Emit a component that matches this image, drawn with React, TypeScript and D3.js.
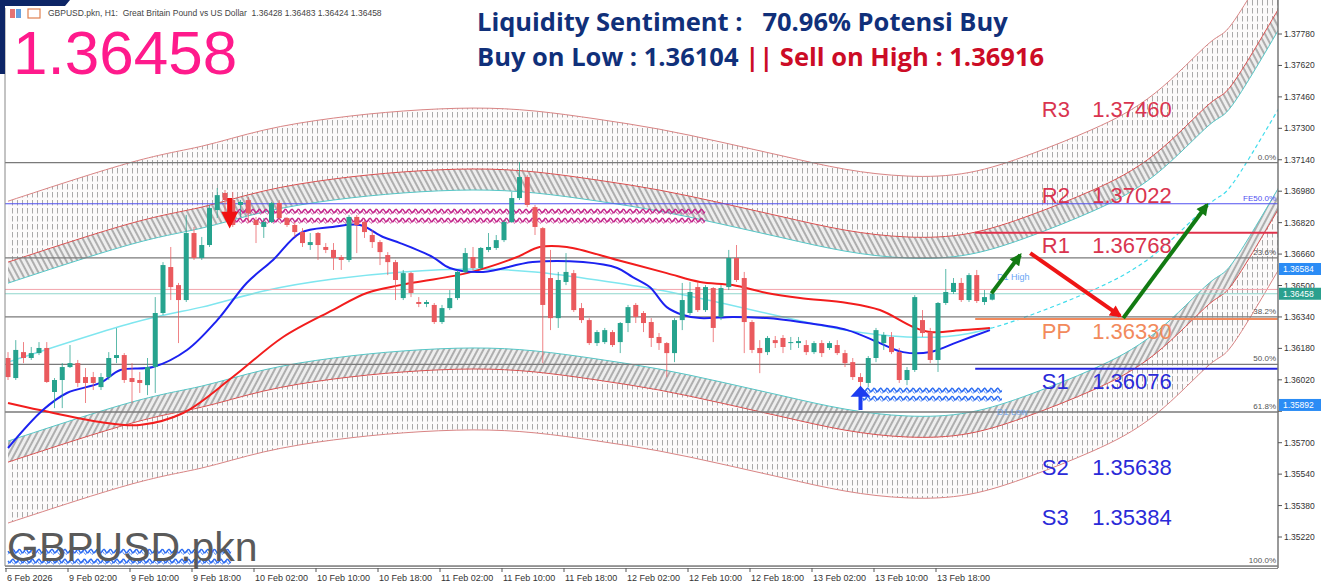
import React from "react";
import * as d3 from "d3";

// ---------- DATA ----------
const symbolName = "GBPUSD.pkn";
const headerText = "GBPUSD.pkn, H1:  Great Britain Pound vs US Dollar  1.36428 1.36483 1.36424 1.36458";
const lastPriceText = "1.36458";
const sentimentLine = "Liquidity Sentiment :   70.96% Potensi Buy";
const buyLowText = "Buy on Low : 1.36104 ";
const sellHighText = "|| Sell on High : 1.36916";

const opens = [1.36131,1.36029,1.36161,1.36131,1.36156,1.36182,1.35958,1.36019,1.36085,1.36105,1.36034,1.36034,1.35983,1.36034,1.36131,1.36146,1.36029,1.36019,1.35993,1.36085,1.36360,1.36594,1.36502,1.36426,1.36767,1.36640,1.36706,1.36884,1.36971,1.36935,1.36910,1.36935,1.36833,1.36798,1.36823,1.36920,1.36843,1.36808,1.36772,1.36706,1.36767,1.36696,1.36681,1.36645,1.36630,1.36849,1.36823,1.36757,1.36721,1.36655,1.36619,1.36436,1.36563,1.36416,1.36406,1.36401,1.36314,1.36385,1.36436,1.36569,1.36645,1.36589,1.36681,1.36691,1.36731,1.36823,1.36945,1.37052,1.36899,1.36792,1.36538,1.36334,1.36518,1.36563,1.36385,1.36324,1.36207,1.36212,1.36263,1.36212,1.36309,1.36401,1.36360,1.36314,1.36238,1.36207,1.36156,1.36324,1.36360,1.36492,1.36375,1.36487,1.36340,1.36492,1.36640,1.36538,1.36314,1.36182,1.36161,1.36222,1.36233,1.36207,1.36207,1.36197,1.36161,1.36207,1.36182,1.36197,1.36156,1.36110,1.36034,1.36004,1.36131,1.36207,1.36238,1.36161,1.36019,1.36070,1.36324,1.36263,1.36121,1.36411,1.36467,1.36513,1.36426,1.36553,1.36416,1.36428];
const highs = [1.36161,1.36222,1.36212,1.36187,1.36212,1.36212,1.36029,1.36105,1.36197,1.36121,1.36080,1.36060,1.36054,1.36161,1.36283,1.36156,1.36105,1.36060,1.36131,1.36441,1.36619,1.36696,1.36513,1.36859,1.36798,1.36747,1.36910,1.36996,1.36986,1.36976,1.36935,1.36950,1.36849,1.36843,1.36925,1.36935,1.36849,1.36823,1.36792,1.36767,1.36772,1.36716,1.36716,1.36655,1.36859,1.36859,1.36833,1.36782,1.36731,1.36670,1.36630,1.36579,1.36569,1.36441,1.36426,1.36411,1.36401,1.36477,1.36579,1.36691,1.36696,1.36696,1.36767,1.36757,1.36833,1.36976,1.37128,1.37062,1.36910,1.36798,1.36681,1.36569,1.36665,1.36579,1.36411,1.36334,1.36273,1.36284,1.36273,1.36314,1.36401,1.36411,1.36370,1.36334,1.36258,1.36212,1.36334,1.36513,1.36518,1.36518,1.36502,1.36492,1.36502,1.36681,1.36706,1.36569,1.36324,1.36222,1.36243,1.36243,1.36248,1.36238,1.36238,1.36222,1.36217,1.36222,1.36217,1.36222,1.36172,1.36131,1.36054,1.36141,1.36284,1.36263,1.36263,1.36182,1.36085,1.36451,1.36375,1.36284,1.36416,1.36584,1.36538,1.36538,1.36563,1.36579,1.36477,1.36483];
const lows = [1.36019,1.36019,1.36105,1.36121,1.36146,1.36004,1.35876,1.35876,1.36080,1.35983,1.35902,1.35968,1.35968,1.36019,1.36105,1.36004,1.35902,1.35953,1.35942,1.35953,1.36350,1.36426,1.36207,1.36416,1.36630,1.36630,1.36696,1.36843,1.36869,1.36798,1.36849,1.36818,1.36716,1.36742,1.36818,1.36833,1.36798,1.36747,1.36696,1.36681,1.36630,1.36665,1.36579,1.36579,1.36619,1.36665,1.36742,1.36691,1.36604,1.36553,1.36426,1.36426,1.36441,1.36390,1.36390,1.36304,1.36304,1.36375,1.36426,1.36563,1.36579,1.36579,1.36670,1.36681,1.36721,1.36818,1.36935,1.36899,1.36757,1.36105,1.36273,1.36284,1.36502,1.36365,1.36309,1.36197,1.36192,1.36202,1.36187,1.36156,1.36263,1.36309,1.36263,1.36187,1.36172,1.36034,1.36110,1.36273,1.36350,1.36365,1.36365,1.36212,1.36324,1.36477,1.36518,1.36156,1.36156,1.36054,1.36146,1.36182,1.36156,1.36172,1.36182,1.36146,1.36151,1.36136,1.36172,1.36146,1.36085,1.36019,1.35892,1.35983,1.36110,1.36172,1.36151,1.36004,1.35993,1.36060,1.36238,1.36105,1.36060,1.36401,1.36457,1.36416,1.36416,1.36411,1.36401,1.36424];
const closes = [1.36034,1.36172,1.36131,1.36156,1.36182,1.36009,1.36019,1.36085,1.36105,1.36004,1.36004,1.36004,1.36034,1.36131,1.36146,1.36019,1.36009,1.36004,1.36085,1.36360,1.36604,1.36492,1.36426,1.36767,1.36640,1.36706,1.36894,1.36960,1.36935,1.36808,1.36925,1.36869,1.36808,1.36823,1.36920,1.36843,1.36808,1.36772,1.36716,1.36721,1.36706,1.36681,1.36640,1.36630,1.36849,1.36808,1.36772,1.36721,1.36670,1.36619,1.36528,1.36563,1.36462,1.36406,1.36416,1.36314,1.36385,1.36436,1.36569,1.36665,1.36589,1.36691,1.36696,1.36731,1.36823,1.36945,1.37052,1.36910,1.36798,1.36401,1.36334,1.36528,1.36569,1.36375,1.36324,1.36207,1.36263,1.36273,1.36197,1.36309,1.36390,1.36340,1.36309,1.36233,1.36207,1.36156,1.36324,1.36426,1.36467,1.36375,1.36492,1.36284,1.36487,1.36640,1.36528,1.36314,1.36172,1.36156,1.36233,1.36207,1.36187,1.36212,1.36217,1.36161,1.36207,1.36156,1.36207,1.36156,1.36105,1.36034,1.36009,1.36131,1.36273,1.36248,1.36161,1.36019,1.36070,1.36441,1.36258,1.36121,1.36411,1.36467,1.36513,1.36426,1.36553,1.36421,1.36441,1.36458];

const timeLabels = ["6 Feb 2026","9 Feb 02:00","9 Feb 10:00","9 Feb 18:00","10 Feb 02:00","10 Feb 10:00","10 Feb 18:00","11 Feb 02:00","11 Feb 10:00","11 Feb 18:00","12 Feb 02:00","12 Feb 10:00","12 Feb 18:00","13 Feb 02:00","13 Feb 10:00","13 Feb 18:00"];
const barsPerLabel = 8;
const priceTicks = [1.35220,1.35380,1.35540,1.35700,1.35860,1.36020,1.36180,1.36340,1.36500,1.36660,1.36820,1.36980,1.37140,1.37300,1.37460,1.37620,1.37780];

// moving averages (bar index, price)
const maFastBars = [0,4.5,7.6,11.9,14.5,18.7,23.1,27,30.8,34.2,37.7,41.9,45.4,48.4,50.6,54.8,57,61.3,67.7,74.2,78.6,80.6,82.8,85,87.1,89.3,93.5,97.9,102.2,108.3,112.5,115.5,119,122.5,126.7];
const maFastVals = [1.35673,1.35866,1.35953,1.36004,1.36070,1.36085,1.36172,1.36324,1.36513,1.36630,1.36767,1.36798,1.36808,1.36747,1.36716,1.36645,1.36589,1.36569,1.36619,1.36619,1.36589,1.36543,1.36492,1.36390,1.36350,1.36334,1.36340,1.36334,1.36314,1.36273,1.36207,1.36161,1.36161,1.36212,1.36273];
const maSlowBars = [0,4.1,11.9,17,22.6,29,35.5,41.9,46.3,50.6,59.2,65.7,68.6,72.1,78.6,85,89.3,93.5,97.9,102.2,108.3,112.5,116.8,119,123.2,126.7];
const maSlowVals = [1.35902,1.35866,1.35805,1.35790,1.35851,1.36034,1.36238,1.36375,1.36462,1.36502,1.36563,1.36645,1.36696,1.36696,1.36630,1.36563,1.36518,1.36502,1.36462,1.36436,1.36411,1.36375,1.36289,1.36263,1.36273,1.36284];

// polynomial regression channel centre (bar index, price) and band offsets
const regBars = [0,16,25,33,42,51,60,68,76,84,92,100,108,116,124,132,140,148,155,158,164];
const regVals = [1.36110,1.36309,1.36390,1.36472,1.36533,1.36569,1.36584,1.36569,1.36528,1.36477,1.36411,1.36340,1.36273,1.36238,1.36256,1.36350,1.36477,1.36660,1.36915,1.37017,1.37403];
const regLastRealBar = 127;
const bandInner = 0.00402;
const bandMid = 0.00509;
const bandOuter = 0.00819;

// pivots
const pivotNames = ["R3","R2","R1","PP","S1","S2","S3"];
const pivotValues = [1.37460,1.37022,1.36768,1.36330,1.36076,1.35638,1.35384];
const pivotLineNames = ["R1","PP","S1"];
const pivotStartBar = 124.8;
const pivotNameBar = 133.4;
const pivotValueBar = 139.9;

// fibonacci
const fibLevels = [0, 23.6, 38.2, 50.0, 61.8, 100.0];
const fibHigh = 1.37125;
const fibLow = 1.35072;
const feLevel = 1.36916;
const feLabel = "FE50.0%";

const bidPrice = 1.36458;
const askPrice = 1.36480;
const d1High = 1.36584;
const d1Low = 1.35892;

// drawn forecast arrows [bar0, price0, bar1, price1]
const arrowsGreen = [[126.9,1.36460,130.6,1.36655],[143.9,1.36334,154.7,1.36910]];
const arrowsRed = [[131.9,1.36665,143.5,1.36345]];

// signals
const sellSignalBar = 28.6, sellSignalTop = 1.36945, sellSignalTip = 1.36790;
const buySignalBar = 110, buySignalTip = 1.35990, buySignalBottom = 1.35866;
const sellZone = { from: 29.3, to: 90, prices: [1.36879, 1.36833] };
const buyZone = { from: 110.3, to: 128.3, prices: [1.35968, 1.35927] };
const legendZone = { from: 0, to: 28.9, prices: [1.35148, 1.35098] };

// ---------- STYLE ----------
const BULL = "#26a38e";
const BEAR = "#ea5a5e";
const NAVY = "#10307a";
const pivotColor: Record<string, string> = { R3: "#d9344f", R2: "#d9344f", R1: "#d9344f", PP: "#f28a5c", S1: "#2a2ad8", S2: "#2a2ad8", S3: "#2a2ad8" };
const pivotLineColor: Record<string, string> = { R1: "#e0304a", PP: "#f28a5c", S1: "#2424e0" };

function wave(x0: number, x1: number, yy: number, amp: number, period: number, phase: number) {
  let d = "";
  for (let px = x0; px <= x1; px += 1) {
    const v = yy + amp * Math.sin(((px - x0) / period) * 2 * Math.PI + phase);
    d += (px === x0 ? "M" : "L") + px.toFixed(1) + "," + v.toFixed(2);
  }
  return d;
}

export default function App() {
  const L = 5, R = 1278, T = 0, B = 566;
  const x = d3.scaleLinear().domain([0, 164]).range([8, 1279]);
  const y = d3.scaleLinear().domain([1.3522, 1.3778]).range([537, 34]);

  const regPts: [number, number][] = regBars.map((b, i) => [b, regVals[i]]);
  const band = (o1: number, o2: number) =>
    d3.area<[number, number]>().x(d => x(d[0])).y0(d => y(d[1] + o1)).y1(d => y(d[1] + o2)).curve(d3.curveNatural)(regPts) || "";
  const edge = (o: number) =>
    d3.line<[number, number]>().x(d => x(d[0])).y(d => y(d[1] + o)).curve(d3.curveNatural)(regPts) || "";

  const maLine = (bars: number[], vals: number[]) =>
    d3.line<number>().x((_, i) => x(bars[i])).y(v => y(v)).curve(d3.curveCatmullRom.alpha(0.5))(vals) || "";

  const fibY = (lvl: number) => y(fibHigh - (lvl / 100) * (fibHigh - fibLow));

  const zoneWaves = (z: { from: number; to: number; prices: number[] }, color: string, key: string) => (
    <g key={key}>
      {z.prices.map((p, k) => (
        <g key={k}>
          <path d={wave(x(z.from), x(z.to), y(p), 1.8, 6.5, 0)} fill="none" stroke={color} strokeWidth={1.4} />
          <path d={wave(x(z.from), x(z.to), y(p) + 1.5, 1.8, 6.5, Math.PI * 0.6)} fill="none" stroke={color} strokeWidth={1} opacity={0.7} />
        </g>
      ))}
    </g>
  );

  const coloredLabels: [number, string][] = [[d1High, "#2b8cf5"], [bidPrice, "#2aa08e"], [d1Low, "#2b8cf5"]];
  const visibleTicks = priceTicks.filter(p => Math.abs(y(p) - y(d1Low)) > 11);

  return (
    <svg width={1325} height={583} style={{ position: "absolute", left: 0, top: 0, background: "#fff" }} fontFamily="Liberation Sans, Arial, sans-serif">
      <defs>
        <clipPath id="plot"><rect x={L} y={T} width={R - L} height={B - T} /></clipPath>
        <clipPath id="past"><rect x={L} y={T} width={x(regLastRealBar) - L} height={B - T} /></clipPath>
        <clipPath id="future"><rect x={x(regLastRealBar)} y={T} width={R - x(regLastRealBar)} height={B - T} /></clipPath>
        <pattern id="vh" width={5} height={8} patternUnits="userSpaceOnUse">
          <rect width={5} height={8} fill="#fcfafa" />
          <line x1={2.5} y1={0} x2={2.5} y2={5.5} stroke="#a0a0a0" strokeWidth={0.9} />
        </pattern>
        <pattern id="dhU" width={5} height={6} patternUnits="userSpaceOnUse" patternTransform="rotate(-28)">
          <rect width={5} height={6} fill="#eeeeee" />
          <line x1={1} y1={0} x2={1} y2={6} stroke="#6e6e6e" strokeWidth={1} />
        </pattern>
        <pattern id="dhL" width={5} height={6} patternUnits="userSpaceOnUse" patternTransform="rotate(28)">
          <rect width={5} height={6} fill="#eeeeee" />
          <line x1={1} y1={0} x2={1} y2={6} stroke="#6e6e6e" strokeWidth={1} />
        </pattern>
        <marker id="ahG" viewBox="0 0 10 10" refX={8} refY={5} markerWidth={13} markerHeight={12} markerUnits="userSpaceOnUse" orient="auto">
          <path d="M0,0 L10,5 L0,10 Z" fill="#127a12" />
        </marker>
        <marker id="ahR" viewBox="0 0 10 10" refX={8} refY={5} markerWidth={13} markerHeight={12} markerUnits="userSpaceOnUse" orient="auto">
          <path d="M0,0 L10,5 L0,10 Z" fill="#ee1515" />
        </marker>
      </defs>

      {/* regression channel */}
      <g clipPath="url(#plot)">
        <path d={band(bandMid, bandOuter)} fill="url(#vh)" />
        <path d={band(-bandMid, -bandOuter)} fill="url(#vh)" />
        <path d={band(bandInner, bandMid)} fill="url(#dhU)" />
        <path d={band(-bandInner, -bandMid)} fill="url(#dhL)" />
        {[bandOuter, -bandOuter].map((o, k) => <path key={"o" + k} d={edge(o)} fill="none" stroke="#d98585" strokeWidth={1} />)}
        {[bandMid, -bandMid].map((o, k) => <path key={"m" + k} d={edge(o)} fill="none" stroke="#d85050" strokeWidth={1} />)}
        {[bandInner, -bandInner].map((o, k) => <path key={"i" + k} d={edge(o)} fill="none" stroke="#55c6c6" strokeWidth={1} />)}
        <g clipPath="url(#past)"><path d={edge(0)} fill="none" stroke="#7fe6ef" strokeWidth={1.5} /></g>
        <g clipPath="url(#future)"><path d={edge(0)} fill="none" stroke="#3fdcec" strokeWidth={1.2} strokeDasharray="4,3" /></g>
      </g>

      {/* fibonacci levels */}
      {fibLevels.map(l => (
        <g key={l}>
          <line x1={L} x2={R} y1={fibY(l)} y2={fibY(l)} stroke="#7a7a7a" strokeWidth={1.3} />
          <text x={R - 2} y={fibY(l) - 3} textAnchor="end" fontSize={8} fill="#555">{l.toFixed(1)}%</text>
        </g>
      ))}
      <line x1={L} x2={R} y1={y(feLevel)} y2={y(feLevel)} stroke="#5050f0" strokeWidth={1} />
      <text x={R - 2} y={y(feLevel) - 3} textAnchor="end" fontSize={8} fill="#5050f0">{feLabel}</text>

      {/* bid / ask */}
      <line x1={L} x2={R} y1={y(askPrice)} y2={y(askPrice)} stroke="#f2a5ac" strokeWidth={1} />
      <line x1={L} x2={R} y1={y(bidPrice)} y2={y(bidPrice)} stroke="#8fd6cc" strokeWidth={1} />

      {/* moving averages */}
      <path d={maLine(maSlowBars, maSlowVals)} fill="none" stroke="#f21d1d" strokeWidth={2} />
      <path d={maLine(maFastBars, maFastVals)} fill="none" stroke="#1c22f0" strokeWidth={2} />

      {/* signal zones */}
      {zoneWaves(sellZone, "#c4288c", "sz")}
      {zoneWaves(buyZone, "#2c6cf2", "bz")}
      {zoneWaves(legendZone, "#2c6cf2", "lz")}

      {/* candles */}
      <g clipPath="url(#plot)">
        {opens.map((o, i) => {
          const c = closes[i];
          const col = c >= o ? BULL : BEAR;
          const cx = x(i);
          const top = y(Math.max(o, c));
          const h = Math.max(1, Math.abs(y(o) - y(c)));
          return (
            <g key={i}>
              <line x1={cx} x2={cx} y1={y(highs[i])} y2={y(lows[i])} stroke={col} strokeWidth={1} opacity={0.75} />
              <rect x={cx - 2.5} y={top} width={5} height={h} fill={col} />
            </g>
          );
        })}
      </g>

      {/* signal arrows */}
      <path d={`M${x(sellSignalBar) - 2.5},${y(sellSignalTop)} h5 v${(y(sellSignalTip) - y(sellSignalTop)) * 0.45} h6 L${x(sellSignalBar)},${y(sellSignalTip)} L${x(sellSignalBar) - 8.5},${y(sellSignalTop) + (y(sellSignalTip) - y(sellSignalTop)) * 0.45} h6 Z`} fill="#f01010" />
      <path d={`M${x(buySignalBar) - 2},${y(buySignalBottom)} v${-(y(buySignalBottom) - y(buySignalTip)) * 0.55} h-8 L${x(buySignalBar)},${y(buySignalTip)} L${x(buySignalBar) + 10},${y(buySignalBottom) - (y(buySignalBottom) - y(buySignalTip)) * 0.55} h-8 V${y(buySignalBottom)} Z`} fill="#1c3cf0" />

      {/* D1 labels */}
      <text x={x(127.6)} y={y(d1High) + 11} fontSize={9} fill="#6aa6f5">D1 High</text>
      <text x={x(127.6)} y={y(d1Low) + 10} fontSize={9} fill="#6aa6f5" opacity={0.8}>D1 Low</text>

      {/* pivots */}
      {pivotNames.map((n, k) => (
        <g key={n}>
          {pivotLineNames.includes(n) && (
            <line x1={x(pivotStartBar)} x2={R} y1={y(pivotValues[k])} y2={y(pivotValues[k])} stroke={pivotLineColor[n]} strokeWidth={2} />
          )}
          <text x={x(pivotNameBar)} y={y(pivotValues[k]) + 20} fontSize={22} fill={pivotColor[n]}>{n}</text>
          <text x={x(pivotValueBar)} y={y(pivotValues[k]) + 20} fontSize={22} fill={pivotColor[n]}>{pivotValues[k].toFixed(5)}</text>
        </g>
      ))}

      {/* forecast arrows */}
      {arrowsGreen.map((a, k) => (
        <line key={"g" + k} x1={x(a[0])} y1={y(a[1])} x2={x(a[2])} y2={y(a[3])} stroke="#127a12" strokeWidth={4} markerEnd="url(#ahG)" />
      ))}
      {arrowsRed.map((a, k) => (
        <line key={"r" + k} x1={x(a[0])} y1={y(a[1])} x2={x(a[2])} y2={y(a[3])} stroke="#ee1515" strokeWidth={4} markerEnd="url(#ahR)" />
      ))}

      {/* frame */}
      <line x1={L} x2={L} y1={8} y2={B} stroke="#888" strokeWidth={1} />
      <line x1={R} x2={R} y1={T} y2={B + 2} stroke="#777" strokeWidth={1.5} />
      <line x1={L} x2={R} y1={B} y2={B} stroke="#888" strokeWidth={1} />
      <line x1={L} x2={R} y1={B + 2.5} y2={B + 2.5} stroke="#888" strokeWidth={1} />

      {/* price axis */}
      {priceTicks.map(p => (
        <line key={"t" + p} x1={R} x2={R + 4} y1={y(p)} y2={y(p)} stroke="#555" />
      ))}
      {visibleTicks.map(p => (
        <text key={p} x={R + 6} y={y(p) + 3} fontSize={8.5} fill="#333">{p.toFixed(5)}</text>
      ))}
      {coloredLabels.map(([p, c], k) => (
        <g key={"pl" + k}>
          <rect x={R + 1} y={y(p) - 6} width={42} height={12} fill={c} />
          <text x={R + 5} y={y(p) + 3.5} fontSize={8.5} fill="#fff">{p.toFixed(5)}</text>
        </g>
      ))}

      {/* time axis */}
      {timeLabels.map((t, k) => {
        const px = x(k * barsPerLabel) - 2;
        return (
          <g key={t}>
            <line x1={px} x2={px} y1={B + 2} y2={B + 6} stroke="#555" />
            <text x={px + 1} y={581} fontSize={9} fill="#333">{t}</text>
          </g>
        );
      })}

      {/* header */}
      <path d="M0,0 H70 L65,6 H5 V74 H0 Z" fill="#0d2566" />
      <rect x={10} y={9} width={5} height={9} fill="#e57373" />
      <rect x={16} y={9} width={5} height={9} fill="#64a0e0" />
      <rect x={28} y={9} width={12} height={9} fill="none" stroke="#e08050" strokeWidth={1.2} />
      <text x={48} y={16} fontSize={8.5} fill="#444" style={{ whiteSpace: "pre" }}>{headerText}</text>
      <text x={13} y={74} fontSize={62} fill="#ff1a8c">{lastPriceText}</text>

      <text x={477} y={31} fontFamily="Open Sans" fontWeight={700} fontSize={25.5} fill={NAVY} style={{ whiteSpace: "pre" }}>{sentimentLine}</text>
      <text x={477} y={66} fontFamily="Open Sans" fontWeight={700} fontSize={25.5} style={{ whiteSpace: "pre" }}>
        <tspan fill={NAVY}>{buyLowText}</tspan>
        <tspan fill="#cc0c26">{sellHighText}</tspan>
      </text>

      <text x={7} y={561} fontSize={41} fill="#5a5a5a">{symbolName}</text>
    </svg>
  );
}
